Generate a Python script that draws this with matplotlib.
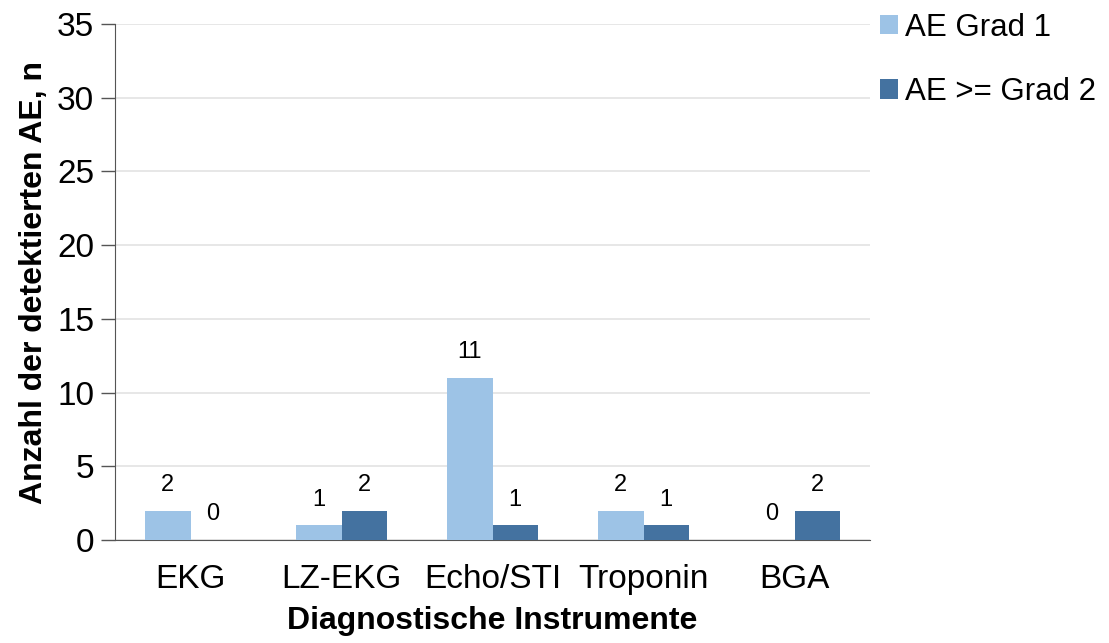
import numpy as np
from matplotlib import pyplot as plt

plt.rcParams['font.family'] = ['Liberation Sans', 'DejaVu Sans']

# data
categories = ['EKG', 'LZ-EKG', 'Echo/STI', 'Troponin', 'BGA']
grad1 = [2, 1, 11, 2, 0]
grad2 = [0, 2, 1, 1, 2]
series_names = ['AE Grad 1', 'AE >= Grad 2']

light = '#9dc3e6'
dark = '#4472a0'

fig = plt.figure(figsize=(11.09, 6.43), dpi=100)
ax = fig.add_axes([0.1037, 0.160, 0.6808, 0.8027])

x = np.arange(len(categories))
w = 0.3
b1 = ax.bar(x - w/2, grad1, w, color=light, label=series_names[0], zorder=3)
b2 = ax.bar(x + w/2, grad2, w, color=dark, label=series_names[1], zorder=3)

for bars in (b1, b2):
    for rect in bars:
        h = rect.get_height()
        ax.text(rect.get_x() + rect.get_width()/2, h + 1.0, str(int(h)),
                ha='center', va='bottom', fontsize=17)

ax.set_xlim(-0.5, len(categories) - 0.5)
ax.set_ylim(0, 35)
ax.set_yticks(range(0, 36, 5))
ax.set_xticks(x)
ax.set_xticklabels(categories)
ax.tick_params(axis='x', length=0, labelsize=24, pad=17)
ax.tick_params(axis='y', length=10, width=1, labelsize=24, pad=5, color='#555555')
ax.yaxis.grid(True, color='#e3e3e3', linewidth=1.2, zorder=0)
ax.set_axisbelow(True)

for s in ['top', 'right']:
    ax.spines[s].set_visible(False)
ax.spines['left'].set_color('#555555')
ax.spines['bottom'].set_color('#555555')

ax.set_xlabel('Diagnostische Instrumente', fontsize=23, fontweight='bold', labelpad=8)
ax.set_ylabel('Anzahl der detektierten AE, n', fontsize=23, fontweight='bold', labelpad=6)

fig.legend(loc='upper left', bbox_to_anchor=(0.782, 1.0), frameon=False,
           fontsize=22.5, handlelength=0.6, handleheight=0.6, handletextpad=0.2,
           labelspacing=1.1, borderaxespad=0)

plt.savefig('out.png', dpi=100)
